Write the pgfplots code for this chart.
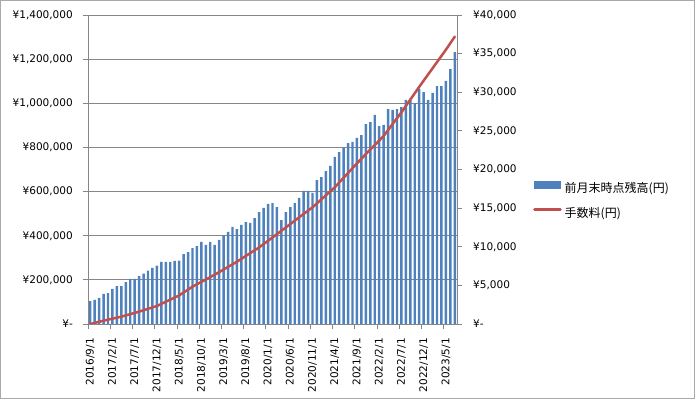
\documentclass[border=0pt]{standalone}
\usepackage{fontspec}
\setmainfont{DejaVu Sans}
\newfontfamily\cjk{Noto Sans CJK JP}
\usepackage{pgfplots}
\pgfplotsset{compat=1.18}
\definecolor{barblue}{HTML}{4F81BD}
\definecolor{linered}{HTML}{C0504D}
\definecolor{gridgray}{HTML}{868686}
\begin{document}
\begin{tikzpicture}
\useasboundingbox (0bp,0bp) rectangle (695bp,399bp);
\draw[gridgray!70, line width=1bp] (0.5bp,0.5bp) rectangle (694.5bp,398.5bp);
\begin{axis}[
  at={(88bp,75bp)}, anchor=south west, scale only axis,
  width=369bp, height=309bp,
  xmin=-0.5, xmax=82.5, ymin=0, ymax=1400000,
  axis x line*=bottom, axis y line*=left,
  axis line style={gridgray, line width=0.75bp},
  tick align=outside, major tick length=5bp,
  ytick={0,200000,400000,600000,800000,1000000,1200000,1400000},
  yticklabels={{¥-},{¥200,000},{¥400,000},{¥600,000},{¥800,000},{¥1,000,000},{¥1,200,000},{¥1,400,000}},
  scaled y ticks=false,
  ymajorgrids, grid style={gridgray, line width=0.75bp},
  ytick style={gridgray, line width=0.75bp},
  yticklabel style={inner sep=0pt, xshift=-10bp, font=\fontsize{10.5bp}{12bp}\selectfont},
  xtick={0,5,10,15,20,25,30,35,40,45,50,55,60,65,70,75,80},
  xticklabels={2016/9/1,2017/2/1,2017/7/1,2017/12/1,2018/5/1,2018/10/1,2019/3/1,2019/8/1,2020/1/1,2020/6/1,2020/11/1,2021/4/1,2021/9/1,2022/2/1,2022/7/1,2022/12/1,2023/5/1},
  xtick style={draw=none},
  xticklabel style={yshift=-9bp, rotate=90, anchor=east, inner sep=0pt, font=\fontsize{10.5bp}{12bp}\selectfont},
  extra x ticks={-0.5,4.5,9.5,14.5,19.5,24.5,29.5,34.5,39.5,44.5,49.5,54.5,59.5,64.5,69.5,74.5,79.5},
  extra x tick labels={},
  extra x tick style={xtick style={draw=gridgray, line width=0.75bp}},
]
\addplot[ybar, fill=barblue, draw=none, bar width=0.55, bar shift=0pt] coordinates {
(0,104000) (1,109000) (2,118000) (3,136000) (4,140000) (5,159000) (6,172000) (7,172000) (8,190000) (9,204000)
(10,204000) (11,217000) (12,228000) (13,242000) (14,254000) (15,264000) (16,281000) (17,281000) (18,281000) (19,286000)
(20,287000) (21,317000) (22,326000) (23,344000) (24,353000) (25,372000) (26,358000) (27,372000) (28,358000) (29,381000)
(30,402000) (31,417000) (32,440000) (33,430000) (34,449000) (35,462000) (36,458000) (37,480000) (38,507000) (39,526000)
(40,544000) (41,548000) (42,530000) (43,471000) (44,507000) (45,530000) (46,548000) (47,571000) (48,603000) (49,603000)
(50,594000) (51,652000) (52,666000) (53,693000) (54,716000) (55,757000) (56,779000) (57,799000) (58,820000) (59,825000)
(60,843000) (61,856000) (62,906000) (63,915000) (64,947000) (65,897000) (66,902000) (67,974000) (68,970000) (69,974000)
(70,983000) (71,1015000) (72,1015000) (73,1000000) (74,1065000) (75,1051000) (76,1015000) (77,1047000) (78,1078000) (79,1078000)
(80,1101000) (81,1155000) (82,1232000)
};
\end{axis}
\begin{axis}[
  at={(88bp,75bp)}, anchor=south west, scale only axis,
  width=369bp, height=309bp,
  xmin=-0.5, xmax=82.5, ymin=0, ymax=40000,
  axis x line=none, axis y line*=right,
  axis line style={gridgray, line width=0.75bp},
  tick align=outside, major tick length=5bp,
  ytick={0,5000,10000,15000,20000,25000,30000,35000,40000},
  yticklabels={{¥-},{¥5,000},{¥10,000},{¥15,000},{¥20,000},{¥25,000},{¥30,000},{¥35,000},{¥40,000}},
  scaled y ticks=false,
  ytick style={gridgray, line width=0.75bp},
  yticklabel style={inner sep=0pt, anchor=west, xshift=11bp, font=\fontsize{10.5bp}{12bp}\selectfont},
  legend style={at={(1.206,0.400)}, anchor=west, draw=none, fill=none, inner sep=0pt, row sep=13.2bp,
    font=\cjk\fontsize{12bp}{14bp}\selectfont,
    nodes={inner sep=0pt, text height=9bp, text depth=2.5bp, anchor=west}},
  legend cell align=left,
]
\addlegendimage{barblue, legend image code/.code={\fill[barblue] (0bp,0.8bp) rectangle (26bp,7.8bp); \path (29bp,0bp);}}
\addlegendentry{前月末時点残高(円)}
\addplot[linered, line width=2.5bp, line cap=round, line join=round,
  legend image code/.code={\draw[linered, line width=2.5bp] (0bp,4.3bp) -- (26bp,4.3bp); \path (29bp,0bp);}] coordinates {
(0,0) (3,430) (7,950) (11,1600) (15,2330) (20,3700) (23,4830) (28,6380) (33,8060) (38,9920)
(41,11200) (45,12940) (50,15100) (55,17690) (60,20790) (62,22000) (66,24330) (70,27400) (74,30700)
(78,33900) (80,35500) (82,37200)
};
\addlegendentry{手数料(円)}
\end{axis}
\end{tikzpicture}
\end{document}
